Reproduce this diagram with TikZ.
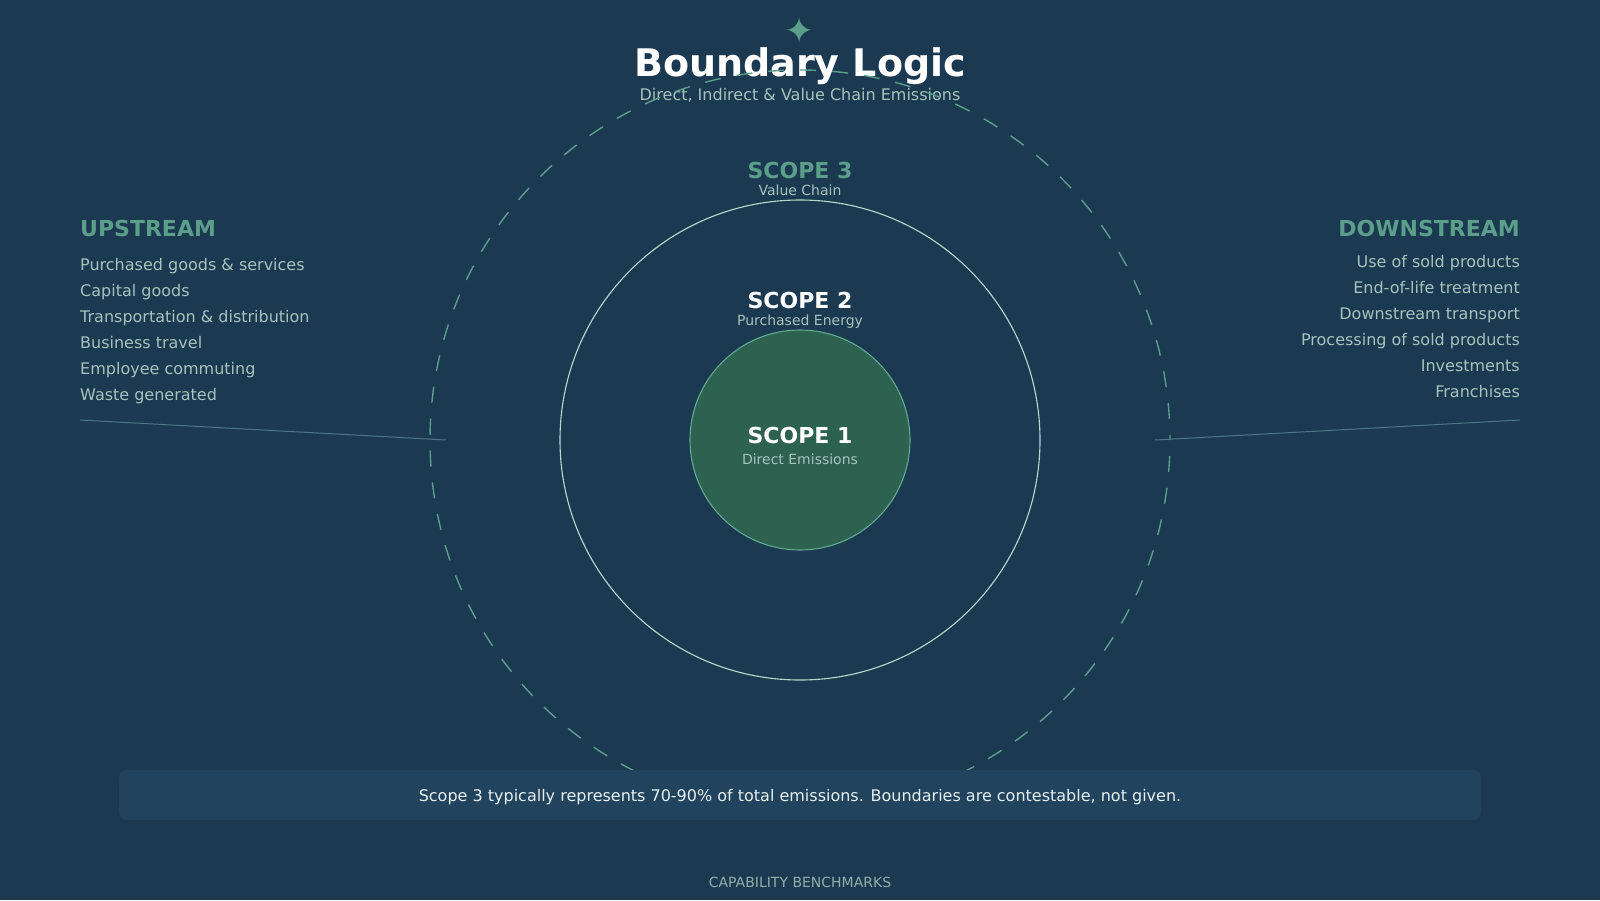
\documentclass[tikz,border=0pt]{standalone}
\usepackage{fontspec}
\setmainfont{DejaVu Sans}
\definecolor{bg}{HTML}{1B3A52}
\definecolor{accent}{HTML}{5B9E8A}
\definecolor{itemc}{HTML}{A6C2BB}
\definecolor{s1fill}{HTML}{2D6150}
\definecolor{s1line}{HTML}{5FAA90}
\definecolor{s2line}{HTML}{B5DCCB}
\definecolor{linkc}{HTML}{4E7384}
\definecolor{boxc}{HTML}{21435E}
\definecolor{notec}{HTML}{E8F0EE}
\definecolor{footc}{HTML}{8FB0A8}
\tikzset{
  item/.style={text=itemc, font=\fontsize{16}{16}\selectfont, anchor=base west, inner sep=0},
  ditem/.style={item, anchor=base east},
  headlbl/.style={text=accent, font=\fontsize{22}{22}\selectfont\bfseries, inner sep=0},
  scopelbl/.style={font=\fontsize{22}{22}\selectfont\bfseries, anchor=base, inner sep=0},
  scopesub/.style={text=itemc, font=\fontsize{14}{14}\selectfont, anchor=base, inner sep=0},
  link/.style={draw=linkc, line width=1},
}
\begin{document}
\begin{tikzpicture}[x=1pt,y=-1pt]
\useasboundingbox (0,0) rectangle (1600,900);
\fill[bg] (0,0) rectangle (1600,900);
\coordinate (c) at (800,440);
% title
\node[text=accent, font=\fontsize{36}{36}\selectfont, inner sep=0] (star) at (800,30) {✦};
\node[text=white, font=\fontsize{38}{38}\selectfont\bfseries, anchor=base, inner sep=0] (title) at (800,76) {Boundary Logic};
\node[text=itemc, font=\fontsize{16}{16}\selectfont, anchor=base, inner sep=0] (subtitle) at (800,100) {Direct, Indirect \& Value Chain Emissions};
% circles
\draw[s2line, line width=1.1] (c) circle[radius=240];
\fill[s1fill] (c) circle[radius=110];
\draw[s1line, line width=1.1] (c) circle[radius=110];
\draw[accent, line width=1.4, dash pattern=on 16 off 16, dash phase=16] (c) circle[radius=370];
% scope labels
\node[scopelbl, text=accent] (s3lbl) at (800,178) {SCOPE 3};
\node[scopesub] (s3sub) at (800,195) {Value Chain};
\node[scopelbl, text=white] (s2lbl) at (800,308) {SCOPE 2};
\node[scopesub] (s2sub) at (800,325) {Purchased Energy};
\node[scopelbl, text=white] (s1lbl) at (800,443) {SCOPE 1};
\node[scopesub] (s1sub) at (800,464) {Direct Emissions};
% upstream
\node[headlbl, anchor=base west] (up) at (80,236) {UPSTREAM};
\node[item] (u1) at (80,270) {Purchased goods \& services};
\node[item] (u2) at (80,296) {Capital goods};
\node[item] (u3) at (80,322) {Transportation \& distribution};
\node[item] (u4) at (80,348) {Business travel};
\node[item] (u5) at (80,374) {Employee commuting};
\node[item] (u6) at (80,400) {Waste generated};
% downstream
\node[headlbl, anchor=base east] (down) at (1520,236) {DOWNSTREAM};
\node[ditem] (d1) at (1520,267) {Use of sold products};
\node[ditem] (d2) at (1520,293) {End-of-life treatment};
\node[ditem] (d3) at (1520,319) {Downstream transport};
\node[ditem] (d4) at (1520,345) {Processing of sold products};
\node[ditem] (d5) at (1520,371) {Investments};
\node[ditem] (d6) at (1520,397) {Franchises};
% connector lines
\coordinate (ua) at (80,420);
\coordinate (ub) at (446,440);
\coordinate (da) at (1520,420);
\coordinate (db) at (1155,440);
\draw[link] (ua) -- (ub);
\draw[link] (db) -- (da);
% note box
\node[fill=boxc, rounded corners=8, minimum width=1362, minimum height=50, inner sep=0] (note) at (800,795) {};
\node[text=notec, font=\fontsize{16}{16}\selectfont, anchor=base, inner sep=0] (notetxt) at (800,801) {Scope 3 typically represents 70-90\% of total emissions. Boundaries are contestable, not given.};
% footer
\node[text=footc, font=\fontsize{14}{14}\selectfont, anchor=base, inner sep=0] (foot) at (800,887) {CAPABILITY BENCHMARKS};
\end{tikzpicture}
\end{document}
